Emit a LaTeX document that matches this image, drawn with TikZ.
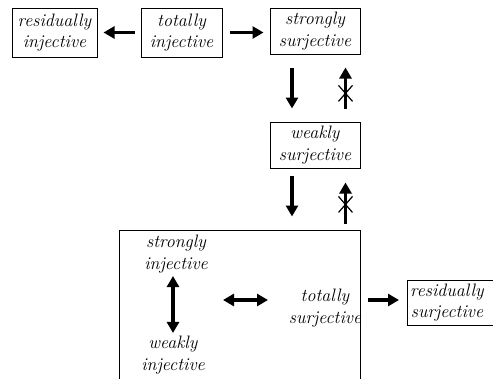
\documentclass[tikz,border=0pt]{standalone}
\usetikzlibrary{arrows.meta}
\begin{document}
\begin{tikzpicture}[x=1pt,y=-1pt,
  every node/.style={font=\fontsize{18}{21.5}\selectfont\itshape, align=center, inner sep=0pt},
  framebox/.style={draw, line width=1pt},
  fat/.style={line width=3.8pt, -{Triangle[length=11pt,width=12pt]}},
  fatboth/.style={line width=3.8pt, {Triangle[length=11pt,width=12pt]}-{Triangle[length=11pt,width=12pt]}},
  xline/.style={line width=1.2pt}]
\useasboundingbox (0,0) rectangle (493,378);
% top row
\node[framebox, minimum width=85pt, minimum height=49pt] (ri) at (54.5,32.5) {residually\\injective};
\node[framebox, minimum width=81pt, minimum height=49pt] (ti) at (181.5,32.5) {totally\\injective};
\node[framebox, minimum width=90pt, minimum height=46pt] (ss) at (315,31) {strongly\\surjective};
\node[framebox, minimum width=90pt, minimum height=46pt] (ws) at (315,145) {weakly\\surjective};
% big box
\node[framebox, minimum width=241pt, minimum height=170pt] (big) at (239.5,315) {};
\node (si) at (176,254) {strongly\\injective};
\node (wi) at (173,355) {weakly\\injective};
\node (ts) at (325,308) {totally\\surjective};
\node[framebox, minimum width=100pt, minimum height=45pt, anchor=west] (rs) at (407,302.5) {};
\node[anchor=west] (rst) at (410,302.5) {residually\\surjective};
% arrows
\draw[fat, shorten <=6pt, shorten >=6pt] (ti.west) -- (ri.east);
\draw[fat, shorten <=7pt, shorten >=6pt] (ti.east) -- (ss.west |- ti.east);
\draw[fat, shorten <=13pt, shorten >=13pt] ([xshift=-23pt]ss.south) -- ([xshift=-23pt]ws.north);
\draw[fat, shorten <=13pt, shorten >=13pt] ([xshift=30.5pt]ws.north) -- coordinate[pos=0.42] (x1) ([xshift=30.5pt]ss.south);
\draw[xline] ([shift={(-7pt,-8pt)}]x1) -- ([shift={(7pt,8pt)}]x1) ([shift={(-7pt,8pt)}]x1) -- ([shift={(7pt,-8pt)}]x1);
\draw[fat, shorten <=7pt, shorten >=14pt] ([xshift=-23pt]ws.south) -- ([xshift=-23pt,yshift=-1pt]big.north -| ws.south);
\draw[fat, shorten <=7pt, shorten >=14pt] ([xshift=30.5pt,yshift=-1pt]big.north -| ws.south) -- coordinate[pos=0.42] (x2) ([xshift=30.5pt]ws.south);
\draw[xline] ([shift={(-7pt,-8pt)}]x2) -- ([shift={(7pt,8pt)}]x2) ([shift={(-7pt,8pt)}]x2) -- ([shift={(7pt,-8pt)}]x2);
\draw[fatboth, shorten <=3pt, shorten >=3pt] ([xshift=-3pt]si.south) -- ([xshift=-3pt]si.south |- wi.north);
\coordinate (dl) at (223,300);
\draw[fatboth] (dl) -- (268,300);
\draw[fat, shorten <=7pt, shorten >=8pt] (big.east |- 0,300) -- (rs.west |- 0,300);
\end{tikzpicture}
\end{document}
